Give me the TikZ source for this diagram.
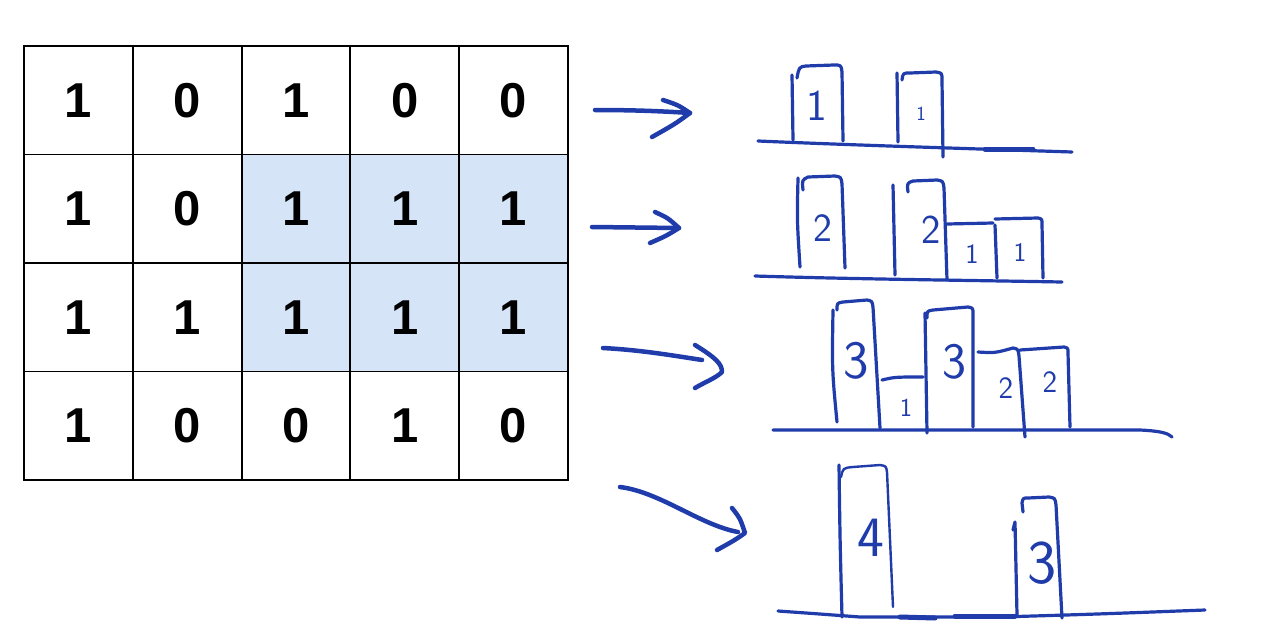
\documentclass[tikz,border=0pt]{standalone}
\usepackage{fontspec}
\newfontfamily\gridfont{Liberation Sans}
\definecolor{hb}{RGB}{32,60,170}
\definecolor{hl}{RGB}{214,228,248}
\begin{document}
\begin{tikzpicture}[x=1pt,y=-1pt,
 cell/.style={draw=black, line width=1.9pt, minimum width=108.8pt, minimum height=108.5pt, inner sep=0pt, font=\gridfont\bfseries\fontsize{49}{49}\selectfont, anchor=center},
 lit/.style={cell, fill=hl},
 pen/.style={draw=hb, line width=3.2pt, line cap=round, line join=round},
 arr/.style={pen, line width=4.5pt},
 hand/.style={text=hb, inner sep=0pt, font=\sffamily\fontsize{#1}{#1}\selectfont},
]
\useasboundingbox[fill=white] (0,0) rectangle (1265,632);
% grid
\node[cell] (c11) at (78.4,100.25) {1};
\node[cell] (c12) at (187.2,100.25) {0};
\node[cell] (c13) at (296.0,100.25) {1};
\node[cell] (c14) at (404.8,100.25) {0};
\node[cell] (c15) at (513.6,100.25) {0};
\node[cell] (c21) at (78.4,208.75) {1};
\node[cell] (c22) at (187.2,208.75) {0};
\node[lit]  (c23) at (296.0,208.75) {1};
\node[lit]  (c24) at (404.8,208.75) {1};
\node[lit]  (c25) at (513.6,208.75) {1};
\node[cell] (c31) at (78.4,317.25) {1};
\node[cell] (c32) at (187.2,317.25) {1};
\node[lit]  (c33) at (296.0,317.25) {1};
\node[lit]  (c34) at (404.8,317.25) {1};
\node[lit]  (c35) at (513.6,317.25) {1};
\node[cell] (c41) at (78.4,425.75) {1};
\node[cell] (c42) at (187.2,425.75) {0};
\node[cell] (c43) at (296.0,425.75) {0};
\node[cell] (c44) at (404.8,425.75) {1};
\node[cell] (c45) at (513.6,425.75) {0};

% ---------- row 1 ----------
\coordinate (a1s) at (595,110);
\coordinate (a1t) at (690,113);
\draw[arr] (a1s) .. controls (630,110) and (660,111) .. (a1t);
\draw[arr] (663,100) .. controls (678,105) .. (a1t) .. controls (675,124) .. (652,137);
\draw[pen] (792,75) -- (793,140);
\draw[pen] (797,78) .. controls (799,67) .. (806,66) -- (834,65) .. controls (841,65) .. (842,72) -- (843,141);
\draw[pen] (897,73) -- (898,142);
\draw[pen] (902,80) .. controls (903,73) .. (910,73) -- (936,72) .. controls (942,73) .. (942,80) -- (943,157);
\draw[pen] (758,141) .. controls (850,145) and (950,148) .. (1072,152);
\draw[pen, line width=5pt] (985,149) -- (1033,149);
\node[hand=44] (l1a) at (817,106) {1};
\node[hand=20] (l1b) at (921,114) {1};

% ---------- row 2 ----------
\coordinate (a2s) at (592,227);
\coordinate (a2t) at (679,228);
\draw[arr] (a2s) -- (a2t);
\draw[arr] (655,212) .. controls (668,218) .. (a2t) .. controls (666,236) .. (650,243);
\draw[pen] (798,178) .. controls (797,220) .. (800,267);
\draw[pen] (803,190) .. controls (802,180) .. (808,177) -- (835,176) .. controls (841,177) .. (842,184) -- (845,268);
\draw[pen] (893,185) -- (895,275);
\draw[pen] (908,192) .. controls (907,183) .. (913,181) -- (937,180) .. controls (943,181) .. (944,188) -- (947,280);
\draw[pen] (947,224) -- (993,223);
\draw[pen] (995,225) -- (997,278);
\draw[pen] (995,219) -- (1038,218) .. controls (1042,219) .. (1042,224) -- (1043,278);
\draw[pen] (755,276) .. controls (850,279) and (950,280) .. (1062,282);
\node[hand=40] (l2a) at (823,228) {2};
\node[hand=41] (l2b) at (931,230) {2};
\node[hand=28] (l2c) at (972,254) {1};
\node[hand=27] (l2d) at (1020,252) {1};

% ---------- row 3 ----------
\coordinate (a3s) at (603,348);
\coordinate (a3t) at (702,360);
\coordinate (a3h) at (722,372);
\draw[arr] (a3s) .. controls (640,350) and (670,355) .. (a3t);
\draw[arr] (695,345) .. controls (716,358) and (722,364) .. (a3h) .. controls (716,378) and (705,382) .. (695,388);
\draw[pen] (833,310) .. controls (832,370) .. (837,422);
\draw[pen] (837,310) .. controls (837,303) .. (843,302) -- (867,300) .. controls (872,301) .. (873,307) -- (880,428);
\draw[pen] (882,380) .. controls (895,377) .. (923,377);
\draw[pen] (925,313) -- (927,433);
\draw[pen] (927,318) .. controls (927,311) .. (933,310) -- (968,307) .. controls (973,308) .. (973,314) -- (973,427);
\draw[pen] (978,352) .. controls (995,353) .. (1013,348) .. controls (1018,349) .. (1019,356) -- (1025,437);
\draw[pen] (1020,350) -- (1064,347) .. controls (1068,348) .. (1068,353) -- (1070,427);
\draw[pen] (773,430) -- (1140,430) .. controls (1160,431) and (1168,433) .. (1172,437);
\node[hand=54] (l3a) at (856,361) {3};
\node[hand=26] (l3b) at (906,408) {1};
\node[hand=51] (l3c) at (954,362) {3};
\node[hand=31] (l3d) at (1006,388) {2};
\node[hand=31] (l3e) at (1050,382) {2};

% ---------- row 4 ----------
\coordinate (a4s) at (620,487);
\coordinate (a4t) at (738,532);
\draw[arr] (a4s) .. controls (660,492) and (700,525) .. (a4t);
\draw[arr] (732,508) .. controls (740,518) .. (745,533) .. controls (735,540) .. (717,550);
\draw[pen] (839,465) .. controls (840,540) .. (842,617);
\draw[pen, line width=2.4pt] (841,477) .. controls (843,468) .. (853,467) -- (880,465) .. controls (886,466) .. (887,472) -- (893,607);
\draw[pen] (1013,530) -- (1015,522) -- (1017,615);
\draw[pen] (1023,512) -- (1022,503) .. controls (1023,498) .. (1028,498) -- (1049,497) .. controls (1055,498) .. (1056,505) -- (1062,618);
\draw[pen] (778,611) .. controls (820,614) .. (860,617) -- (1000,617) .. controls (1100,614) .. (1205,610);
\draw[pen, line width=5pt] (900,617) -- (935,618);
\draw[pen, line width=5pt] (955,616) -- (1015,616);
\node[hand=57] (l4a) at (871,538) {4};
\node[hand=62] (l4b) at (1042,563) {3};
\end{tikzpicture}
\end{document}
